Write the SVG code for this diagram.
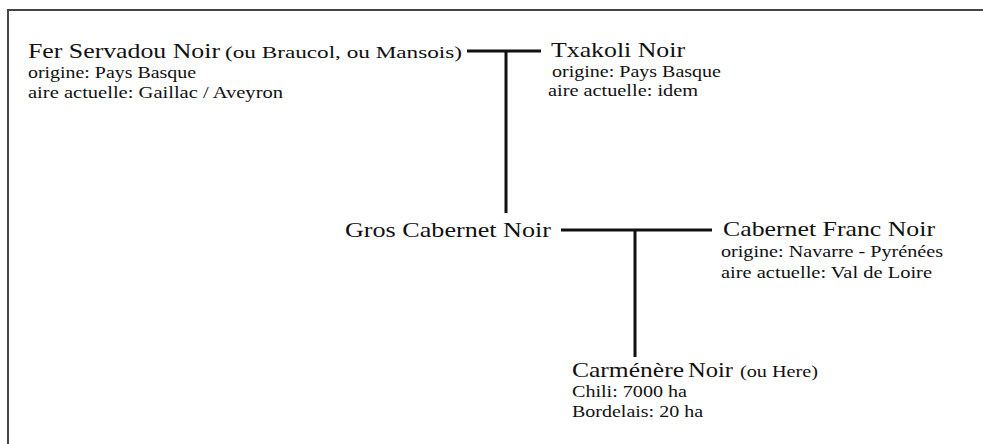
<svg xmlns="http://www.w3.org/2000/svg" width="983" height="444" viewBox="0 0 983 444">
<style>
text{font-family:"Liberation Serif","Times New Roman",serif;fill:#111}
.t{font-size:22px}
.s{font-size:17px}
.c{stroke:#111;stroke-width:3;fill:none}
.f{stroke:#444;stroke-width:2;fill:none}
</style>
<rect width="983" height="444" fill="#fff"/>
<path class="f" d="M8 444V10H983"/>
<g id="connectors">
<path class="c" d="M467 51H541M506 51V213"/>
<path class="c" d="M561 230H712M635 230V357"/>
</g>
<g id="fer">
<text class="t" x="28" y="58" textLength="192" lengthAdjust="spacingAndGlyphs">Fer Servadou Noir</text>
<text class="s" x="225" y="58" textLength="237" lengthAdjust="spacingAndGlyphs">(ou Braucol, ou Mansois)</text>
<text class="s" x="28" y="78" textLength="168" lengthAdjust="spacingAndGlyphs">origine: Pays Basque</text>
<text class="s" x="28" y="98" textLength="255" lengthAdjust="spacingAndGlyphs">aire actuelle: Gaillac / Aveyron</text>
</g>
<g id="txakoli">
<text class="t" x="551" y="57" textLength="134" lengthAdjust="spacingAndGlyphs">Txakoli Noir</text>
<text class="s" x="552" y="77" textLength="169" lengthAdjust="spacingAndGlyphs">origine: Pays Basque</text>
<text class="s" x="548" y="96" textLength="150" lengthAdjust="spacingAndGlyphs">aire actuelle: idem</text>
</g>
<g id="gros">
<text class="t" x="345" y="237" textLength="206" lengthAdjust="spacingAndGlyphs">Gros Cabernet Noir</text>
</g>
<g id="franc">
<text class="t" x="723" y="236" textLength="212" lengthAdjust="spacingAndGlyphs">Cabernet Franc Noir</text>
<text class="s" x="721" y="257" textLength="222" lengthAdjust="spacingAndGlyphs">origine: Navarre - Pyrénées</text>
<text class="s" x="721" y="278" textLength="211" lengthAdjust="spacingAndGlyphs">aire actuelle: Val de Loire</text>
</g>
<g id="carmenere">
<text class="t" x="572" y="377" textLength="112" lengthAdjust="spacingAndGlyphs">Carménère</text>
<text class="t" x="688" y="377" textLength="45" lengthAdjust="spacingAndGlyphs">Noir</text>
<text class="s" x="740" y="377" textLength="78" lengthAdjust="spacingAndGlyphs">(ou Here)</text>
<text class="s" x="572" y="397" textLength="115" lengthAdjust="spacingAndGlyphs">Chili: 7000 ha</text>
<text class="s" x="572" y="417" textLength="131" lengthAdjust="spacingAndGlyphs">Bordelais: 20 ha</text>
</g>
</svg>
